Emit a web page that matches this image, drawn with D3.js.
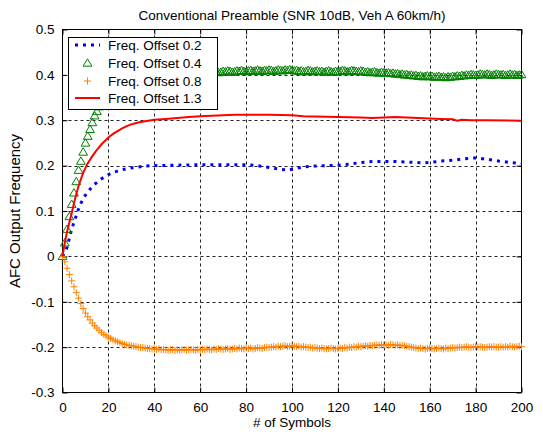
<!DOCTYPE html>
<html><head><meta charset="utf-8">
<script src="https://cdn.jsdelivr.net/npm/d3@7"></script>
<style>body{margin:0;background:#fff}text{font-family:"Liberation Sans",Arial,sans-serif;fill:#000}</style>
</head><body><svg id="c" width="543" height="432"></svg>
<script>
// ---- data ----
const xTicks = [0,20,40,60,80,100,120,140,160,180,200];
const yTicks = [0.5,0.4,0.3,0.2,0.1,0,-0.1,-0.2,-0.3];
const yTickLabels = ["0.5","0.4","0.3","0.2","0.1","0","-0.1","-0.2","-0.3"];
const seriesNames = ["Freq. Offset 0.2","Freq. Offset 0.4","Freq. Offset 0.8","Freq. Offset 1.3"];

// Freq. Offset 0.2 (blue dotted line) - key points
const blueX = [0,1,2,3,4,5,6,7,8,9,10,11,12,13,14,15,16,17,18,19,20,22,24,26,28,30,33,36,40,50,60,70,80,85,90,95,98,100,105,110,116,120,125,130,135,140,145,150,157,160,165,170,175,180,185,190,195,200];
const blueY = [0,0.01,0.02,0.04,0.06,0.075,0.09,0.105,0.117,0.127,0.135,0.142,0.148,0.154,0.159,0.163,0.167,0.171,0.174,0.177,0.18,0.185,0.188,0.191,0.193,0.195,0.197,0.199,0.2,0.201,0.202,0.202,0.202,0.2,0.196,0.192,0.19,0.192,0.197,0.199,0.2,0.201,0.203,0.207,0.209,0.209,0.209,0.208,0.206,0.207,0.21,0.212,0.215,0.217,0.214,0.21,0.207,0.205];

// Freq. Offset 0.4 (green triangles), symbols 0..200
const greenY = [0,0.03,0.06,0.088,0.115,0.14,0.165,0.19,0.21,0.23,0.25,
0.265,0.28,0.295,0.31,0.32,0.33,0.34,0.35,0.357,0.364,
0.37,0.376,0.381,0.385,0.389,0.392,0.395,0.397,0.399,0.4,
0.401,0.4,0.402,0.401,0.403,0.402,0.404,0.403,0.404,0.405,
0.404,0.406,0.405,0.404,0.406,0.405,0.407,0.406,0.405,0.406,
0.407,0.405,0.406,0.408,0.406,0.405,0.407,0.406,0.408,0.407,
0.405,0.407,0.406,0.404,0.406,0.408,0.407,0.405,0.406,0.408,
0.407,0.409,0.408,0.406,0.407,0.409,0.408,0.41,0.408,0.407,
0.409,0.41,0.408,0.409,0.411,0.409,0.408,0.41,0.409,0.411,
0.41,0.408,0.409,0.411,0.41,0.409,0.411,0.41,0.412,0.41,
0.409,0.41,0.408,0.409,0.407,0.408,0.41,0.409,0.407,0.408,
0.409,0.407,0.408,0.406,0.408,0.409,0.407,0.406,0.408,0.407,
0.408,0.41,0.409,0.407,0.408,0.41,0.409,0.408,0.407,0.409,
0.408,0.406,0.407,0.405,0.406,0.407,0.405,0.404,0.406,0.405,
0.404,0.405,0.403,0.404,0.402,0.403,0.401,0.402,0.4,0.401,
0.399,0.4,0.398,0.399,0.397,0.398,0.396,0.397,0.398,0.396,
0.397,0.395,0.396,0.397,0.395,0.396,0.394,0.396,0.395,0.397,
0.396,0.398,0.397,0.399,0.398,0.4,0.399,0.401,0.4,0.399,
0.4,0.402,0.401,0.4,0.402,0.401,0.399,0.4,0.402,0.401,
0.4,0.401,0.399,0.4,0.402,0.4,0.401,0.399,0.4,0.401];

// Freq. Offset 0.8 (orange plus), symbols 0..200
const orangeY = [0,-0.012,-0.026,-0.04,-0.054,-0.067,-0.08,-0.092,-0.104,-0.115,-0.125,
-0.133,-0.14,-0.147,-0.153,-0.158,-0.163,-0.168,-0.172,-0.175,-0.178,
-0.181,-0.184,-0.186,-0.188,-0.19,-0.192,-0.194,-0.195,-0.196,-0.197,
-0.198,-0.199,-0.2,-0.201,-0.201,-0.202,-0.203,-0.203,-0.204,-0.204,
-0.205,-0.204,-0.206,-0.205,-0.206,-0.207,-0.206,-0.205,-0.207,-0.206,
-0.207,-0.206,-0.205,-0.207,-0.206,-0.205,-0.206,-0.207,-0.205,-0.206,
-0.205,-0.206,-0.204,-0.205,-0.206,-0.204,-0.205,-0.203,-0.204,-0.205,
-0.204,-0.203,-0.205,-0.204,-0.203,-0.204,-0.202,-0.203,-0.204,-0.202,
-0.203,-0.202,-0.204,-0.203,-0.201,-0.202,-0.203,-0.201,-0.2,-0.201,
-0.2,-0.199,-0.2,-0.198,-0.199,-0.198,-0.197,-0.199,-0.198,-0.197,
-0.198,-0.199,-0.198,-0.2,-0.199,-0.2,-0.201,-0.2,-0.202,-0.201,
-0.202,-0.203,-0.202,-0.203,-0.204,-0.203,-0.202,-0.203,-0.204,-0.203,
-0.202,-0.203,-0.201,-0.202,-0.2,-0.201,-0.199,-0.2,-0.198,-0.199,
-0.198,-0.197,-0.198,-0.196,-0.197,-0.196,-0.195,-0.196,-0.195,-0.196,
-0.195,-0.196,-0.194,-0.195,-0.196,-0.195,-0.197,-0.196,-0.197,-0.198,
-0.199,-0.2,-0.201,-0.202,-0.203,-0.202,-0.203,-0.204,-0.203,-0.202,
-0.203,-0.204,-0.203,-0.202,-0.203,-0.204,-0.202,-0.203,-0.202,-0.201,
-0.202,-0.201,-0.2,-0.201,-0.2,-0.199,-0.2,-0.201,-0.2,-0.199,
-0.2,-0.199,-0.2,-0.201,-0.2,-0.199,-0.2,-0.199,-0.2,-0.2,
-0.199,-0.2,-0.199,-0.2,-0.198,-0.199,-0.2,-0.199,-0.198,-0.199];

// Freq. Offset 1.3 (red solid line) - key points
const redX = [0,1,2,3,4,5,6,7,8,9,10,11,12,13,14,15,16,17,18,19,20,22,24,26,28,30,33,36,40,45,50,55,60,65,70,75,80,90,100,105,110,120,130,135,140,145,150,155,160,165,170,172,174,178,185,200];
const redY = [0,0.03,0.055,0.075,0.095,0.117,0.137,0.155,0.17,0.184,0.195,0.205,0.213,0.221,0.228,0.235,0.241,0.247,0.252,0.257,0.262,0.27,0.276,0.282,0.287,0.291,0.295,0.298,0.301,0.303,0.305,0.307,0.309,0.31,0.311,0.312,0.312,0.312,0.311,0.309,0.308,0.307,0.306,0.305,0.306,0.307,0.306,0.305,0.304,0.303,0.302,0.299,0.301,0.3,0.3,0.299];

// ---- drawing ----
const svg = d3.select("#c");
const L = 62.5, R = 521.5, T = 29.5, B = 392.5;
const x = d3.scaleLinear().domain([0,200]).range([L,R]);
const y = d3.scaleLinear().domain([-0.3,0.5]).range([B,T]);
const FS = 13.5;

// grid
const grid = svg.append("g").attr("stroke","#222").attr("stroke-width",1).attr("stroke-dasharray","3,3");
xTicks.slice(1,-1).forEach(t=>grid.append("line").attr("x1",Math.round(x(t))+0.5).attr("x2",Math.round(x(t))+0.5).attr("y1",T).attr("y2",B));
yTicks.slice(1,-1).forEach(t=>grid.append("line").attr("y1",Math.round(y(t))+0.5).attr("y2",Math.round(y(t))+0.5).attr("x1",L).attr("x2",R));

// axes with inward ticks
const fmtY = d => yTickLabels[yTicks.indexOf(d)];
svg.append("g").attr("transform",`translate(0,${B})`)
  .call(d3.axisBottom(x).tickValues(xTicks).tickSize(-5).tickPadding(10).tickSizeOuter(0))
  .call(g=>{g.select(".domain").remove();g.selectAll("text").attr("font-size",FS).attr("font-family",null);});
svg.append("g").attr("transform",`translate(0,${T})`)
  .call(d3.axisTop(x).tickValues(xTicks).tickSize(-5).tickSizeOuter(0).tickFormat(""))
  .call(g=>g.select(".domain").remove());
svg.append("g").attr("transform",`translate(${L},0)`)
  .call(d3.axisLeft(y).tickValues(yTicks).tickFormat(fmtY).tickSize(-5).tickPadding(8).tickSizeOuter(0))
  .call(g=>{g.select(".domain").remove();g.selectAll("text").attr("font-size",FS).attr("font-family",null);});
svg.append("g").attr("transform",`translate(${R},0)`)
  .call(d3.axisRight(y).tickValues(yTicks).tickSize(-5).tickSizeOuter(0).tickFormat(""))
  .call(g=>g.select(".domain").remove());
svg.append("rect").attr("x",L).attr("y",T).attr("width",R-L).attr("height",B-T).attr("fill","none").attr("stroke","#000");

const plot = svg.append("g");

// blue dotted
plot.append("path").datum(blueX.map((d,i)=>[d,blueY[i]]))
  .attr("d",d3.line().x(d=>x(d[0])).y(d=>y(d[1])))
  .attr("fill","none").attr("stroke","#0000ff").attr("stroke-width",3).attr("stroke-dasharray","3,5");

// green triangles
const tri = "M0,-4.2L4.4,3.2L-4.4,3.2Z";
plot.append("g").selectAll("path").data(greenY).join("path")
  .attr("d",tri).attr("transform",(d,i)=>`translate(${x(i)},${y(d)})`)
  .attr("fill","none").attr("stroke","#008000").attr("stroke-width",1);

// orange plus
const plus = "M-3.5,0H3.5M0,-3.5V3.5";
plot.append("g").selectAll("path").data(orangeY).join("path")
  .attr("d",plus).attr("transform",(d,i)=>`translate(${x(i)},${y(d)})`)
  .attr("fill","none").attr("stroke","#ff8000").attr("stroke-width",1);

// red line
plot.append("path").datum(redX.map((d,i)=>[d,redY[i]]))
  .attr("d",d3.line().x(d=>x(d[0])).y(d=>y(d[1])))
  .attr("fill","none").attr("stroke","#ff0000").attr("stroke-width",2);

// legend
const lg = svg.append("g");
lg.append("rect").attr("x",68.5).attr("y",37.5).attr("width",149).attr("height",72).attr("fill","#fff").attr("stroke","#000");
const rows = [45,63,81,98];
const sx0 = 75, sx1 = 100;
lg.append("line").attr("x1",sx0).attr("x2",sx1).attr("y1",rows[0]).attr("y2",rows[0]).attr("stroke","#0000ff").attr("stroke-width",3).attr("stroke-dasharray","3,5");
lg.append("path").attr("d",tri).attr("transform",`translate(${(sx0+sx1)/2},${rows[1]})`).attr("fill","none").attr("stroke","#008000");
lg.append("path").attr("d",plus).attr("transform",`translate(${(sx0+sx1)/2},${rows[2]})`).attr("fill","none").attr("stroke","#ff8000");
lg.append("line").attr("x1",sx0).attr("x2",sx1).attr("y1",rows[3]).attr("y2",rows[3]).attr("stroke","#ff0000").attr("stroke-width",2);
seriesNames.forEach((n,i)=>lg.append("text").attr("x",108).attr("y",rows[i]).attr("dy","0.35em").attr("font-size",FS).text(n));

// titles
svg.append("text").attr("x",(L+R)/2).attr("y",20).attr("text-anchor","middle").attr("font-size",FS).text("Conventional Preamble (SNR 10dB, Veh A 60km/h)");
svg.append("text").attr("x",(L+R)/2).attr("y",427).attr("text-anchor","middle").attr("font-size",FS).text("# of Symbols");
svg.append("text").attr("transform",`translate(20,${(T+B)/2}) rotate(-90)`).attr("text-anchor","middle").attr("font-size",15).text("AFC Output Frequency");
</script></body></html>
